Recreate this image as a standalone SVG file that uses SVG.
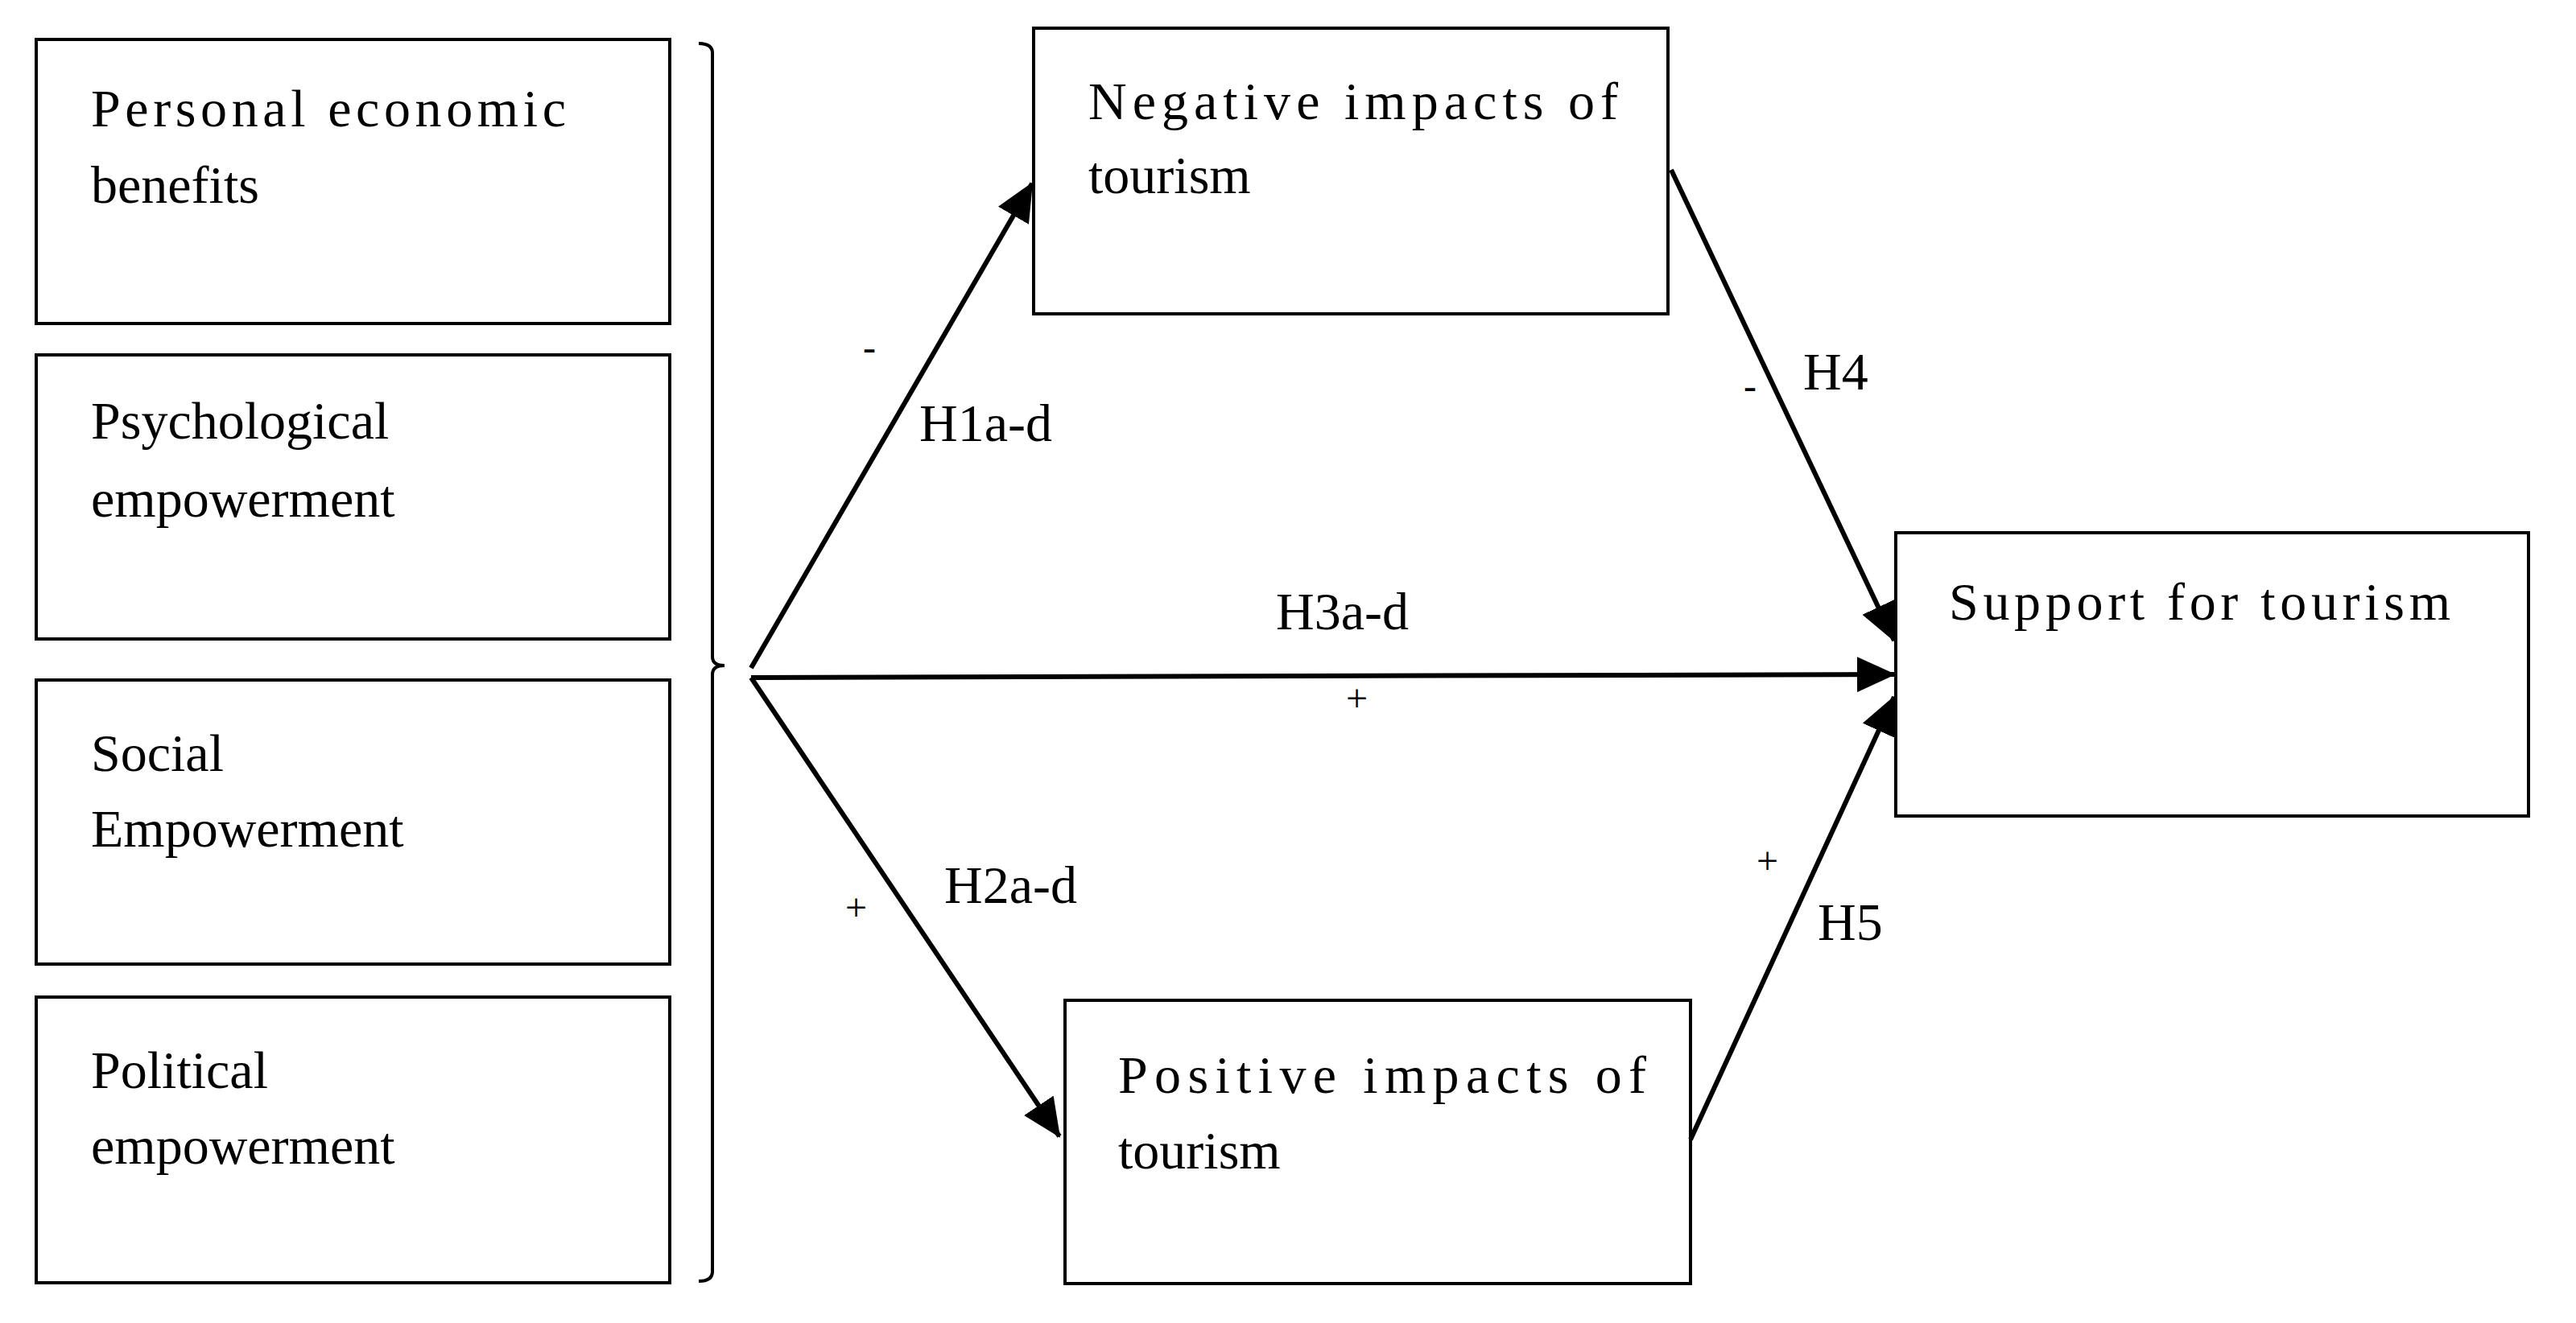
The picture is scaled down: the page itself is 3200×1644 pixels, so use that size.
<svg xmlns="http://www.w3.org/2000/svg" width="3200" height="1644" viewBox="0 0 3200 1644">
<style>
.box{fill:#fff;stroke:#000;stroke-width:4}
.t{font-family:"Liberation Serif",serif;font-size:66px;fill:#000}
.s{font-family:"Liberation Serif",serif;font-size:48px;fill:#000}
.c{stroke:#000;stroke-width:6;fill:none}
</style>
<defs>
<marker id="ah" markerUnits="userSpaceOnUse" markerWidth="50" markerHeight="44" refX="46" refY="22" orient="auto">
<path d="M0,0 L48,22 L0,44 Z" fill="#000"/>
</marker>
</defs>
<rect width="3200" height="1644" fill="#fff"/>
<g id="n1"><rect class="box" x="45" y="49" width="787" height="353"/>
<text class="t" x="113" y="157" textLength="590">Personal economic</text>
<text class="t" x="113" y="252">benefits</text></g>
<g id="n2"><rect class="box" x="45" y="441" width="787" height="353"/>
<text class="t" x="113" y="545">Psychological</text>
<text class="t" x="113" y="642">empowerment</text></g>
<g id="n3"><rect class="box" x="45" y="845" width="787" height="353"/>
<text class="t" x="113" y="958">Social</text>
<text class="t" x="113" y="1052">Empowerment</text></g>
<g id="n4"><rect class="box" x="45" y="1239" width="787" height="355"/>
<text class="t" x="113" y="1352">Political</text>
<text class="t" x="113" y="1446">empowerment</text></g>
<g id="bracket"><path d="M868,54 Q885,54 885,66 L885,816 Q885,827 900,827 Q885,827 885,838 L885,1580 Q885,1592 868,1592" fill="none" stroke="#000" stroke-width="4"/></g>
<g id="neg"><rect class="box" x="1284" y="35" width="788" height="355"/>
<text class="t" x="1352" y="148" textLength="658">Negative  impacts  of</text>
<text class="t" x="1352" y="240">tourism</text></g>
<g id="pos"><rect class="box" x="1323" y="1243" width="777" height="352"/>
<text class="t" x="1389" y="1358" textLength="656">Positive  impacts  of</text>
<text class="t" x="1389" y="1452">tourism</text></g>
<g id="sup"><rect class="box" x="2355" y="662" width="786" height="352"/>
<text class="t" x="2421" y="770" textLength="623">Support for tourism</text></g>
<g id="connectors">
<line class="c" x1="933" y1="830" x2="1282" y2="228" marker-end="url(#ah)"/>
<line class="c" x1="933" y1="842" x2="2353" y2="838" marker-end="url(#ah)"/>
<line class="c" x1="933" y1="842" x2="1316" y2="1412" marker-end="url(#ah)"/>
<line class="c" x1="2076" y1="211" x2="2353" y2="796" marker-end="url(#ah)"/>
<line class="c" x1="2100" y1="1416" x2="2353" y2="866" marker-end="url(#ah)"/>
</g>
<g id="labels">
<text class="s" x="1072" y="448">-</text>
<text class="t" x="1142" y="548">H1a-d</text>
<text class="s" x="2166" y="496">-</text>
<text class="t" x="2240" y="484">H4</text>
<text class="t" x="1585" y="782">H3a-d</text>
<text class="s" x="1672" y="884">+</text>
<text class="t" x="1173" y="1122">H2a-d</text>
<text class="s" x="1050" y="1144">+</text>
<text class="s" x="2182" y="1086">+</text>
<text class="t" x="2258" y="1168">H5</text>
</g>
</svg>
